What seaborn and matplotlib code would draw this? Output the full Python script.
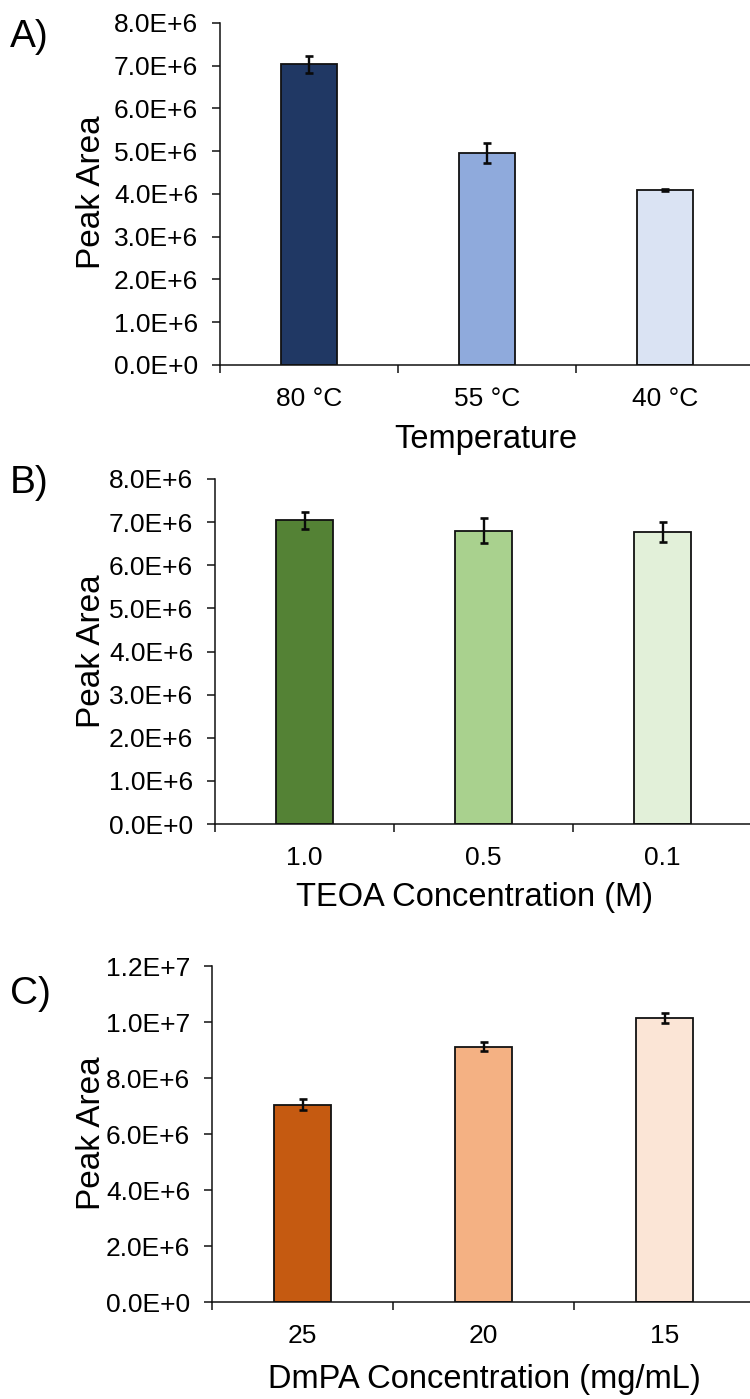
import numpy as np
import pandas as pd
import matplotlib
matplotlib.use("Agg")
import matplotlib.pyplot as plt
import seaborn as sns

# ---- data -------------------------------------------------------------
temp_labels = ["80 °C", "55 °C", "40 °C"]
temp_values = [7.03e6, 4.96e6, 4.09e6]
temp_errors = [0.20e6, 0.24e6, 0.03e6]
temp_colors = ["#203864", "#8FAADC", "#DAE3F3"]

teoa_labels = ["1.0", "0.5", "0.1"]
teoa_values = [7.04e6, 6.80e6, 6.77e6]
teoa_errors = [0.20e6, 0.29e6, 0.23e6]
teoa_colors = ["#548235", "#A9D18E", "#E2F0D9"]

dmpa_labels = ["25", "20", "15"]
dmpa_values = [7.04e6, 9.12e6, 10.15e6]
dmpa_errors = [0.20e6, 0.17e6, 0.18e6]
dmpa_colors = ["#C55A11", "#F4B183", "#FBE5D6"]

panel_letters = ["A)", "B)", "C)"]
x_titles = ["Temperature", "TEOA Concentration (M)", "DmPA Concentration (mg/mL)"]
y_title = "Peak Area"
y_ticks_ab = [0, 1e6, 2e6, 3e6, 4e6, 5e6, 6e6, 7e6, 8e6]
y_ticks_c = [0, 2e6, 4e6, 6e6, 8e6, 10e6, 12e6]

# ---- style ------------------------------------------------------------
sns.set_theme(style="ticks")
plt.rcParams["font.family"] = ["Liberation Sans", "DejaVu Sans"]

W, H = 750, 1399
fig = plt.figure(figsize=(W / 100, H / 100), dpi=100)


def px_box(left, top, right, bottom):
    """Axes rectangle from pixel edges (origin at top-left)."""
    return [left / W, 1 - bottom / H, (right - left) / W, (bottom - top) / H]


def sci_label(v):
    if v == 0:
        return "0.0E+0"
    e = int(np.floor(np.log10(abs(v))))
    return f"{v / 10 ** e:.1f}E+{e}"


panels = [
    dict(labels=temp_labels, values=temp_values, errors=temp_errors,
         colors=temp_colors, box=px_box(220, 22.8, 754, 365),
         ylim=8e6, yticks=y_ticks_ab, letter_y=47, xt_x=486, xt_y=448, yl_y=192),
    dict(labels=teoa_labels, values=teoa_values, errors=teoa_errors,
         colors=teoa_colors, box=px_box(215, 479, 752, 824),
         ylim=8e6, yticks=y_ticks_ab, letter_y=493, xt_x=474, xt_y=906, yl_y=651),
    dict(labels=dmpa_labels, values=dmpa_values, errors=dmpa_errors,
         colors=dmpa_colors, box=px_box(212, 966, 755, 1302),
         ylim=12e6, yticks=y_ticks_c, letter_y=1004, xt_x=484, xt_y=1388, yl_y=1133),
]

for i, p in enumerate(panels):
    ax = fig.add_axes(p["box"])
    df = pd.DataFrame({"cat": p["labels"], "val": p["values"]})
    sns.barplot(data=df, x="cat", y="val", hue="cat", order=p["labels"],
                hue_order=p["labels"], palette=p["colors"], width=0.315,
                edgecolor="#111111", linewidth=1.3, legend=False, ax=ax,
                errorbar=None, saturation=1)
    ax.errorbar(x=np.arange(len(p["labels"])), y=p["values"], yerr=p["errors"],
                fmt="none", ecolor="#0a0a0a", elinewidth=1.7, capsize=3.0,
                capthick=1.9, zorder=5)

    ax.set_xlim(-0.5, len(p["labels"]) - 0.5)
    ax.set_ylim(0, p["ylim"])
    ax.set_yticks(p["yticks"])
    ax.set_yticklabels([sci_label(v) for v in p["yticks"]])
    ax.set_xlabel("")
    ax.set_ylabel("")

    # category boundary ticks on the x axis
    ax.set_xticks(np.arange(len(p["labels"]) + 1) - 0.5, minor=True)
    ax.tick_params(axis="x", which="major", length=0, pad=16.0,
                   labelsize=19, colors="black")
    ax.tick_params(axis="x", which="minor", length=5.8, width=1.1,
                   color="#111111", direction="out")
    ax.tick_params(axis="y", which="major", length=5.8, width=1.1,
                   color="#111111", pad=10.0, labelsize=19, labelcolor="black")

    sns.despine(ax=ax)
    for side in ("left", "bottom"):
        ax.spines[side].set_linewidth(1.1)
        ax.spines[side].set_color("#111111")

    # titles and panel letters
    fig.text(p["xt_x"] / W, 1 - p["xt_y"] / H, x_titles[i], fontsize=23.5,
             ha="center", va="baseline", color="black")
    fig.text(100 / W, 1 - p["yl_y"] / H, y_title, fontsize=24, rotation=90,
             rotation_mode="anchor", ha="center", va="baseline", color="black")
    fig.text(10 / W, 1 - p["letter_y"] / H, panel_letters[i], fontsize=28,
             ha="left", va="baseline", color="black")

fig.savefig("out.png", dpi=100)
